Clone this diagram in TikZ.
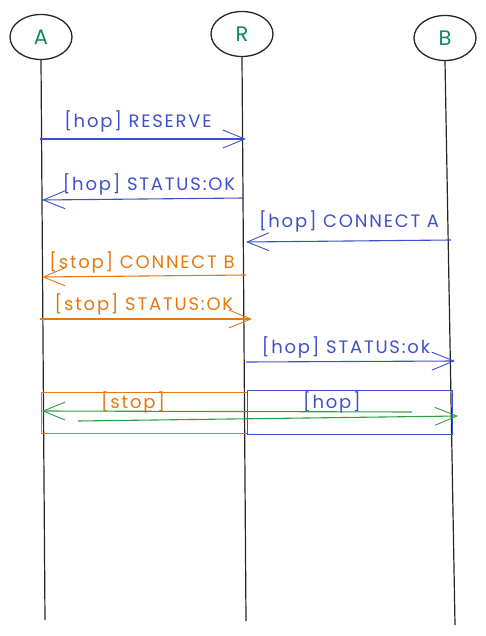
\documentclass[tikz,border=0pt]{standalone}
\usepackage{fontspec}
\setmainfont{Poppins}
\newfontfamily\lblfont[LetterSpace=10]{Poppins}
\usetikzlibrary{arrows.meta,shapes.geometric}
\definecolor{cblue}{HTML}{3F51C8}
\definecolor{corange}{HTML}{E8770E}
\definecolor{cgreen}{HTML}{2F9E44}
\definecolor{cteal}{HTML}{0C8A5E}
\tikzset{
  actor/.style={draw=black!85, line width=1.3pt, ellipse, minimum width=62pt, minimum height=45pt, inner sep=0pt, text=cteal, font=\fontsize{21}{21}\selectfont},
  life/.style={draw=black!85, line width=1.2pt},
  msg/.style={line width=1.1pt, -{Straight Barb[length=22pt,width=18pt,line width=0.9pt]}},
  lbl/.style={font=\lblfont\fontsize{18}{18}\selectfont, inner sep=0pt, anchor=base},
  frame/.style={line width=0.9pt}
}
\begin{document}
\begin{tikzpicture}[x=1pt,y=-1pt]
\useasboundingbox (0,0) rectangle (486,636);
% actors
\node[actor] (A) at (41,37) {A};
\node[actor] (R) at (242,34) {R};
\node[actor] (B) at (445,38) {B};
\coordinate (Aend) at (45,620);
\coordinate (Rend) at (246,621);
\coordinate (Bend) at (455,625);
\draw[life] (A.south) -- (Aend);
\draw[life] (R.south) -- (Rend);
\draw[life] (B.south) -- (Bend);
% message points
\coordinate (m1s) at (40,139); \coordinate (m1e) at (246,139);
\coordinate (m2s) at (244,198); \coordinate (m2e) at (42,200);
\coordinate (m3s) at (451,240); \coordinate (m3e) at (246,242);
\coordinate (m4s) at (246,275); \coordinate (m4e) at (42,277);
\coordinate (m5s) at (40,319); \coordinate (m5e) at (252,319);
\coordinate (m6s) at (246,362); \coordinate (m6e) at (455,361);
\draw[msg, cblue] (m1s) -- (m1e);
\draw[msg, cblue] (m2s) -- (m2e);
\draw[msg, cblue] (m3s) -- (m3e);
\draw[msg, corange] (m4s) -- (m4e);
\draw[msg, corange] (m5s) -- (m5e);
\draw[msg, cblue] (m6s) -- (m6e);
\node[lbl, text=cblue] (l1) at (138,128) {[hop] RESERVE};
\node[lbl, text=cblue] (l2) at (149,190) {[hop] STATUS:OK};
\node[lbl, text=cblue] (l3) at (349,227) {[hop] CONNECT A};
\node[lbl, text=corange] (l4) at (142,268) {[stop] CONNECT B};
\node[lbl, text=corange] (l5) at (144,310) {[stop] STATUS:OK};
\node[lbl, text=cblue] (l6) at (346,353) {[hop] STATUS:ok};
% frames
\node[frame, draw=corange, minimum width=206pt, minimum height=41pt, inner sep=0pt] (fs) at (144,412.5) {};
\node[frame, draw=cblue, minimum width=205pt, minimum height=44pt, inner sep=0pt] (fh) at (349.5,412) {};
\node[lbl, text=corange] (ls) at (133,408) {[stop]};
\node[lbl, text=cblue] (lh) at (332,408) {[hop]};
\coordinate (g1s) at (412,412); \coordinate (g1e) at (42,411);
\coordinate (g2s) at (78,421); \coordinate (g2e) at (458,416);
\draw[msg, cgreen] (g1s) -- (g1e);
\draw[msg, cgreen] (g2s) -- (g2e);
\end{tikzpicture}
\end{document}
